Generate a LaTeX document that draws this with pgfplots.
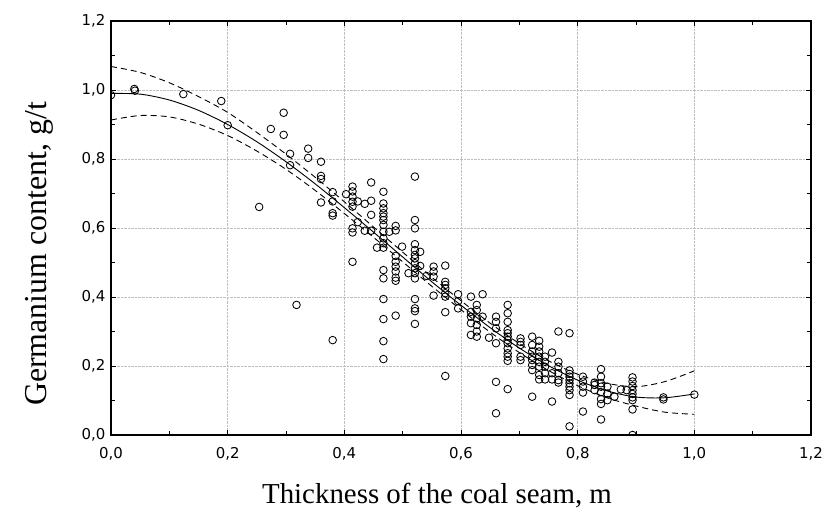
\documentclass[border=0pt]{standalone}
\usepackage{fontspec}
\setmainfont{Liberation Serif}
\setsansfont{DejaVu Sans}
\usepackage{pgfplots}
\pgfplotsset{compat=1.18}
\begin{document}
\begin{tikzpicture}[x=1bp,y=1bp]
\begin{axis}[
  at={(111bp,75bp)}, anchor=south west,
  scale only axis, width=700bp, height=414bp,
  xmin=0, xmax=1.2, ymin=0, ymax=1.2,
  clip marker paths=true,
  xtick={0,0.2,0.4,0.6,0.8,1.0,1.2},
  ytick={0,0.2,0.4,0.6,0.8,1.0,1.2},
  minor tick num=1,
  tick align=inside,
  xtick pos=both, ytick pos=both,
  major tick length=5bp, minor tick length=4bp,
  tick style={black, line width=0.7bp},
  grid=major,
  major grid style={densely dotted, black!25, line width=0.6bp},
  axis line style={black, line width=1.3bp},
  xticklabel style={font=\sffamily\fontsize{15}{17}\selectfont, yshift=-9bp},
  yticklabel style={font=\sffamily\fontsize{15}{17}\selectfont, xshift=-2bp},
  /pgf/number format/.cd, fixed, fixed zerofill, precision=1, use comma, assume math mode=true
]
% fitted curve
\addplot[black, line width=0.9bp, smooth, no marks] coordinates {
(0,0.990) (0.05,0.988) (0.1,0.971) (0.15,0.941) (0.2,0.900) (0.25,0.850)
(0.3,0.792) (0.35,0.728) (0.4,0.659) (0.45,0.588) (0.5,0.516) (0.55,0.444)
(0.6,0.376) (0.65,0.311) (0.7,0.252) (0.75,0.201) (0.8,0.159) (0.85,0.128)
(0.9,0.110) (0.95,0.108) (1.0,0.119)};
% upper band
\addplot[black, line width=0.9bp, smooth, no marks, dash pattern=on 6bp off 4bp] coordinates {
(0,1.068) (0.05,1.051) (0.1,1.021) (0.15,0.981) (0.2,0.935) (0.25,0.877)
(0.3,0.814) (0.35,0.747) (0.4,0.676) (0.45,0.603) (0.5,0.530) (0.55,0.457)
(0.6,0.389) (0.65,0.324) (0.7,0.265) (0.75,0.215) (0.8,0.176) (0.85,0.150)
(0.9,0.140) (0.95,0.155) (1.0,0.186)};
% lower band
\addplot[black, line width=0.9bp, smooth, no marks, dash pattern=on 6bp off 4bp] coordinates {
(0,0.913) (0.05,0.926) (0.1,0.922) (0.15,0.901) (0.2,0.868) (0.25,0.823)
(0.3,0.770) (0.35,0.709) (0.4,0.642) (0.45,0.573) (0.5,0.502) (0.55,0.431)
(0.6,0.363) (0.65,0.298) (0.7,0.239) (0.75,0.187) (0.8,0.143) (0.85,0.108)
(0.9,0.084) (0.95,0.066) (1.0,0.060)};
% observations
\addplot[only marks, mark=o, mark size=3.8bp, black, mark options={line width=0.85bp}] table {
x y
0.000 0.985
0.040 1.003
0.041 0.998
0.124 0.988
0.189 0.968
0.200 0.898
0.254 0.661
0.274 0.887
0.296 0.934
0.296 0.870
0.307 0.815
0.307 0.782
0.318 0.377
0.338 0.830
0.338 0.803
0.360 0.792
0.360 0.751
0.360 0.742
0.360 0.674
0.380 0.704
0.380 0.677
0.380 0.643
0.380 0.636
0.380 0.275
0.403 0.698
0.414 0.720
0.414 0.706
0.414 0.691
0.414 0.676
0.414 0.662
0.414 0.599
0.414 0.587
0.414 0.502
0.423 0.677
0.423 0.617
0.435 0.670
0.435 0.592
0.446 0.732
0.446 0.679
0.446 0.638
0.446 0.592
0.456 0.543
0.467 0.705
0.467 0.671
0.467 0.657
0.467 0.643
0.467 0.633
0.467 0.623
0.467 0.609
0.467 0.589
0.467 0.570
0.467 0.556
0.467 0.543
0.467 0.478
0.467 0.454
0.467 0.394
0.467 0.336
0.467 0.272
0.467 0.220
0.477 0.589
0.488 0.606
0.488 0.593
0.488 0.519
0.488 0.502
0.488 0.488
0.488 0.474
0.488 0.456
0.488 0.447
0.488 0.346
0.499 0.546
0.510 0.469
0.521 0.749
0.521 0.623
0.521 0.599
0.521 0.553
0.521 0.536
0.521 0.522
0.521 0.512
0.521 0.498
0.521 0.483
0.521 0.469
0.521 0.454
0.521 0.394
0.521 0.367
0.521 0.359
0.521 0.322
0.530 0.531
0.530 0.490
0.541 0.461
0.553 0.488
0.553 0.474
0.553 0.459
0.553 0.404
0.573 0.491
0.573 0.444
0.573 0.435
0.573 0.425
0.573 0.411
0.573 0.401
0.573 0.356
0.573 0.171
0.595 0.408
0.595 0.388
0.595 0.367
0.617 0.401
0.617 0.357
0.617 0.343
0.617 0.324
0.617 0.290
0.627 0.377
0.627 0.362
0.627 0.338
0.627 0.319
0.627 0.300
0.627 0.285
0.637 0.408
0.637 0.343
0.648 0.282
0.660 0.343
0.660 0.328
0.660 0.309
0.660 0.266
0.660 0.154
0.660 0.063
0.680 0.377
0.680 0.353
0.680 0.328
0.680 0.304
0.680 0.295
0.680 0.285
0.680 0.275
0.680 0.266
0.680 0.251
0.680 0.237
0.680 0.227
0.680 0.215
0.680 0.133
0.702 0.280
0.702 0.270
0.702 0.261
0.702 0.227
0.702 0.217
0.722 0.285
0.722 0.261
0.722 0.242
0.722 0.227
0.722 0.217
0.722 0.203
0.722 0.188
0.722 0.111
0.734 0.273
0.734 0.256
0.734 0.242
0.734 0.227
0.734 0.212
0.734 0.198
0.734 0.174
0.734 0.161
0.744 0.227
0.744 0.212
0.744 0.198
0.744 0.179
0.744 0.161
0.756 0.239
0.756 0.179
0.756 0.161
0.756 0.097
0.767 0.300
0.767 0.212
0.767 0.198
0.767 0.179
0.767 0.159
0.767 0.152
0.786 0.295
0.786 0.187
0.786 0.177
0.786 0.169
0.786 0.159
0.786 0.150
0.786 0.140
0.786 0.130
0.786 0.116
0.786 0.025
0.809 0.169
0.809 0.155
0.809 0.140
0.809 0.123
0.809 0.068
0.829 0.152
0.829 0.145
0.829 0.130
0.840 0.191
0.840 0.169
0.840 0.150
0.840 0.140
0.840 0.124
0.840 0.104
0.840 0.090
0.840 0.045
0.851 0.140
0.851 0.120
0.851 0.101
0.863 0.111
0.874 0.132
0.884 0.130
0.894 0.167
0.894 0.155
0.894 0.142
0.894 0.130
0.894 0.119
0.894 0.109
0.894 0.101
0.894 0.074
0.894 0.000
0.947 0.109
0.947 0.103
1.000 0.117
};
\end{axis}
\node[font=\fontsize{29}{31}\selectfont, anchor=base] at (437,6) {Thickness of the coal seam, m};
\node[font=\fontsize{32}{34}\selectfont, rotate=90, anchor=base] at (46,256) {Germanium content, g/t};
\pgfresetboundingbox
\useasboundingbox (0,0) rectangle (826,510);
\end{tikzpicture}
\end{document}
